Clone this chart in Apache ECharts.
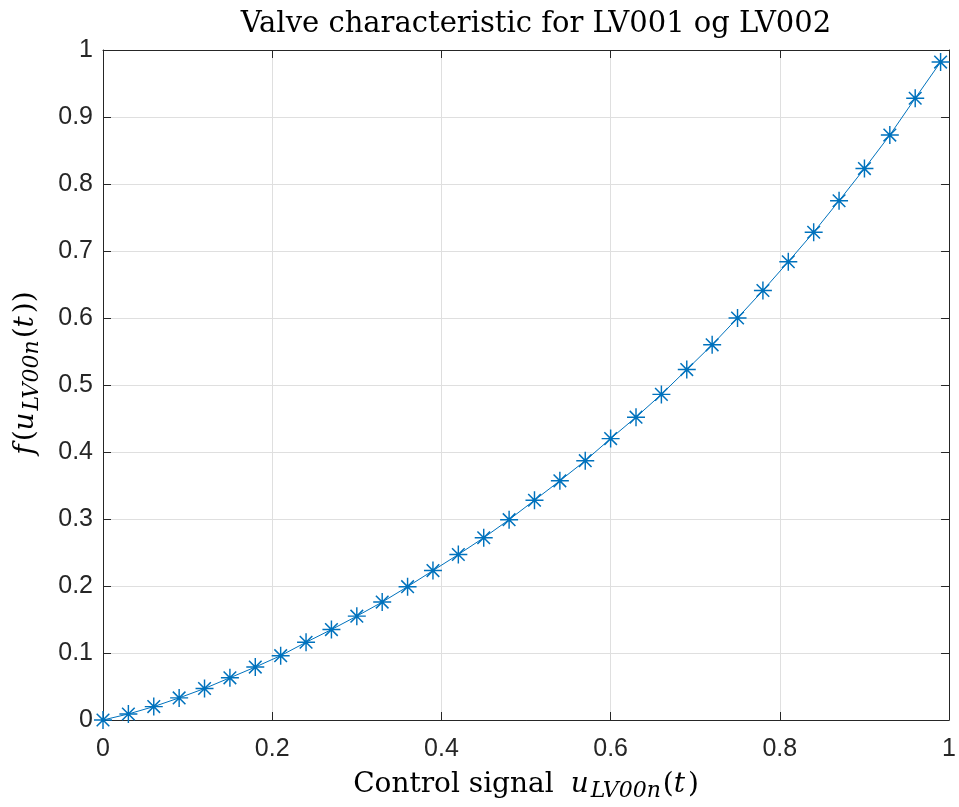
<!DOCTYPE html>
<html>
<head>
<meta charset="utf-8">
<script src="https://cdn.jsdelivr.net/npm/echarts@6/dist/echarts.min.js"></script>
<style>html,body{margin:0;padding:0;background:#fff;}#c{width:959px;height:807px;}</style>
</head>
<body>
<div id="c"></div>
<script>
const xVals = [0,0.03,0.06,0.09,0.12,0.15,0.18,0.21,0.24,0.27,0.30,0.33,0.36,0.39,0.42,0.45,0.48,0.51,0.54,0.57,0.60,0.63,0.66,0.69,0.72,0.75,0.78,0.81,0.84,0.87,0.90,0.93,0.96,0.99];
const yVals = [0,0.009,0.020,0.033,0.047,0.063,0.079,0.096,0.116,0.135,0.155,0.176,0.199,0.223,0.247,0.272,0.299,0.328,0.357,0.387,0.420,0.452,0.486,0.523,0.560,0.600,0.641,0.684,0.728,0.775,0.823,0.873,0.928,0.982];
const xTicks = [0,0.2,0.4,0.6,0.8,1];
const yTicks = [0,0.1,0.2,0.3,0.4,0.5,0.6,0.7,0.8,0.9,1];

const data = xVals.map((x,i)=>[x,yVals[i]]);
const asterisk = 'path://M46 0L54 0L54 100L46 100Z M0 46L100 46L100 54L0 54Z M12 18L18 12L88 82L82 88Z M82 12L88 18L18 88L12 82Z';
const axisColor = '#262626';
const serif = '"DejaVu Serif", serif';
const sans = '"Liberation Sans", Arial, sans-serif';
const fmt = v => (+v.toFixed(2)).toString();

const nameRich = {
  n:{fontFamily:serif, fontSize:28, color:'#000'},
  i:{fontFamily:serif, fontSize:28, fontStyle:'italic', color:'#000'},
  sp:{fontFamily:serif, fontSize:28, color:'#000', width:17},
  th:{fontFamily:serif, fontSize:28, color:'#000', width:3},
  s:{fontFamily:serif, fontSize:22, fontStyle:'italic', color:'#000', padding:[13,2,0,2]}
};

const chart = echarts.init(document.getElementById('c'), null, {renderer:'canvas'});
const baseAxis = {
  min:0, max:1, interval:0.1,
  axisLine:{show:true, onZero:false, lineStyle:{color:axisColor, width:1}},
  axisTick:{show:true, inside:true, length:8, lineStyle:{color:axisColor}},
};
chart.setOption({
  animation:false,
  backgroundColor:'#fff',
  title:{
    text:'Valve characteristic for LV001 og LV002',
    left:531, top:5, textAlign:'center',
    textStyle:{fontFamily:serif, fontSize:29, fontWeight:'normal', color:'#000'}
  },
  grid:{left:103, right:4, top:50, bottom:86, containLabel:false},
  xAxis:[
    Object.assign({}, baseAxis, {
      type:'value', position:'bottom', interval:0.2,
      axisLabel:{show:true, color:axisColor, fontSize:25, fontFamily:sans, margin:17, formatter:fmt},
      splitLine:{show:true, lineStyle:{color:'#dfdfdf', width:1}},
      name:'{n|Control signal}{sp| }{i|u}{s|LV00n}{n|(}{i|t}{th| }{n|)}',
      nameLocation:'middle', nameGap:47,
      nameTextStyle:{rich:nameRich}
    }),
    Object.assign({}, baseAxis, {
      type:'value', position:'top', interval:0.2,
      axisLabel:{show:false}, splitLine:{show:false}
    })
  ],
  yAxis:[
    Object.assign({}, baseAxis, {
      type:'value', position:'left',
      axisLabel:{show:true, color:axisColor, fontSize:25, fontFamily:sans, margin:10, formatter:fmt},
      splitLine:{show:true, lineStyle:{color:'#dfdfdf', width:1}},
      name:'{i|f}{th| }{n|(}{i|u}{s|LV00n}{n|(}{i|t}{th| }{n|))}',
      nameLocation:'middle', nameGap:60, nameRotate:90,
      nameTextStyle:{rich:nameRich, padding:[0,0,0,24]}
    }),
    Object.assign({}, baseAxis, {
      type:'value', position:'right',
      axisLabel:{show:false}, splitLine:{show:false}
    })
  ],
  series:[{
    type:'line',
    data:data,
    xAxisIndex:0, yAxisIndex:0,
    lineStyle:{color:'#0072BD', width:1},
    itemStyle:{color:'#0072BD'},
    symbol:asterisk,
    symbolSize:18,
    showSymbol:true,
    clip:false
  }]
});
</script>
</body>
</html>
